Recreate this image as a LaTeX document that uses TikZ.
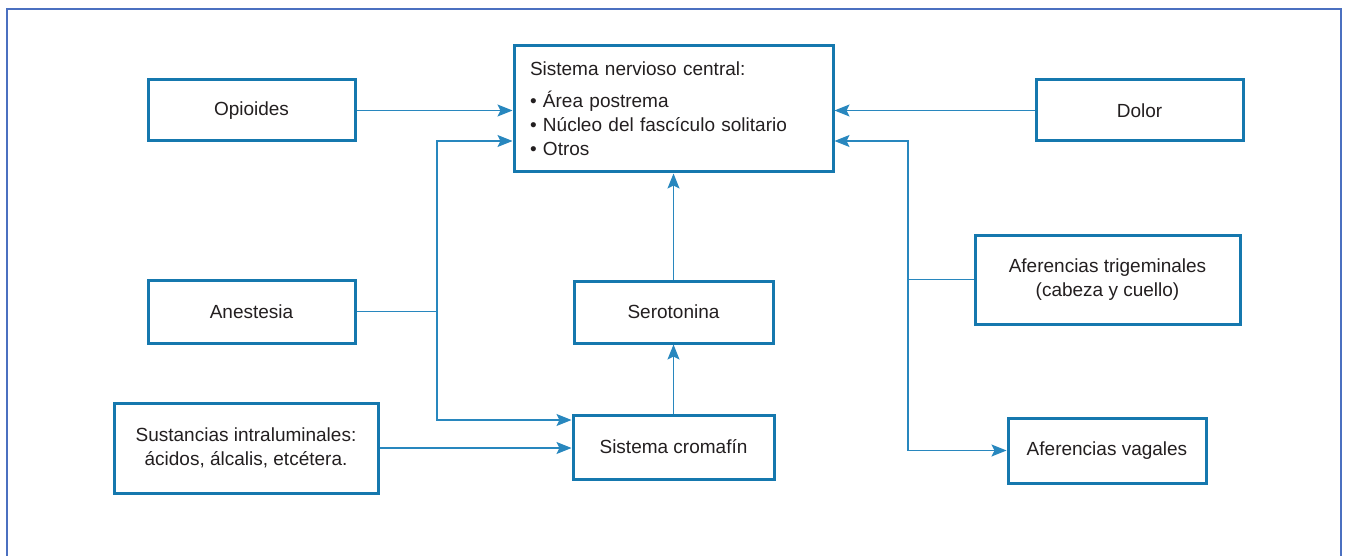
\documentclass[tikz,border=0pt]{standalone}
\usepackage{fontspec}
\setmainfont{Liberation Sans}
\usetikzlibrary{arrows.meta,calc}
\definecolor{boxblue}{RGB}{21,120,174}
\definecolor{lineblue}{RGB}{40,135,190}
\definecolor{frameblue}{RGB}{75,112,192}
\definecolor{txt}{RGB}{35,31,32}
\begin{document}
\begin{tikzpicture}[x=1pt,y=-1pt,
  bx/.style={draw=boxblue,line width=3pt,fill=white,text=txt,align=center,inner sep=0pt,
    font=\fontsize{19}{24}\selectfont},
  conn/.style={draw=lineblue,line width=1.1pt},
  arr/.style={conn,-{Stealth[length=15pt,width=12pt,inset=3pt]}}]
\useasboundingbox (0,0) rectangle (1348,556);
\draw[frameblue,line width=2.6pt] (7,560) -- (7,9) -- (1341,9) -- (1341,560);
% nodes
\node[bx,minimum width=207pt,minimum height=61pt] (opi) at (251.5,110.5) {Opioides};
\node[bx,minimum width=207pt,minimum height=63pt] (anes) at (251.5,311.5) {Anestesia};
\node[bx,minimum width=264pt,minimum height=90pt] (sust) at (246,448) {Sustancias intraluminales:\\ácidos, álcalis, etcétera.};
\node[bx,minimum width=319pt,minimum height=126pt,text width=287pt,align=left] (snc) at (673.5,109)
  {Sistema nervioso central:\\[8pt]\textbullet\ Área postrema\\\textbullet\ Núcleo del fascículo solitario\\\textbullet\ Otros};
\node[bx,minimum width=199pt,minimum height=62pt] (sero) at (673.5,312) {Serotonina};
\node[bx,minimum width=201pt,minimum height=64pt] (crom) at (673.5,447) {Sistema cromafín};
\node[bx,minimum width=207pt,minimum height=61pt] (dolor) at (1139.5,110.5) {Dolor};
\node[bx,minimum width=265pt,minimum height=89pt] (trig) at (1107.5,279.5) {Aferencias trigeminales\\(cabeza y cuello)};
\node[bx,minimum width=198pt,minimum height=65pt] (vag) at (1107,450.5) {Aferencias vagales};
% junctions
\coordinate (ja) at (437,311.5);
\coordinate (jt) at (908,279.5);
% connectors
\draw[arr] (opi.east) -- (opi.east -| snc.west);
\draw[conn] (anes.east) -- (ja);
\draw[arr] (ja) |- ([yshift=-32pt]snc.west);
\draw[arr] (ja) |- ([yshift=27pt]crom.west);
\draw[arr] (sust.east) -- (sust.east -| crom.west);
\draw[arr] (crom.north) -- (sero.south);
\draw[arr] (sero.north) -- (snc.south);
\draw[arr] (dolor.west) -- (dolor.west -| snc.east);
\draw[conn] (trig.west) -- (jt);
\draw[arr] (jt) |- ([yshift=-32pt]snc.east);
\draw[arr] (jt) |- (vag.west);
\end{tikzpicture}
\end{document}
